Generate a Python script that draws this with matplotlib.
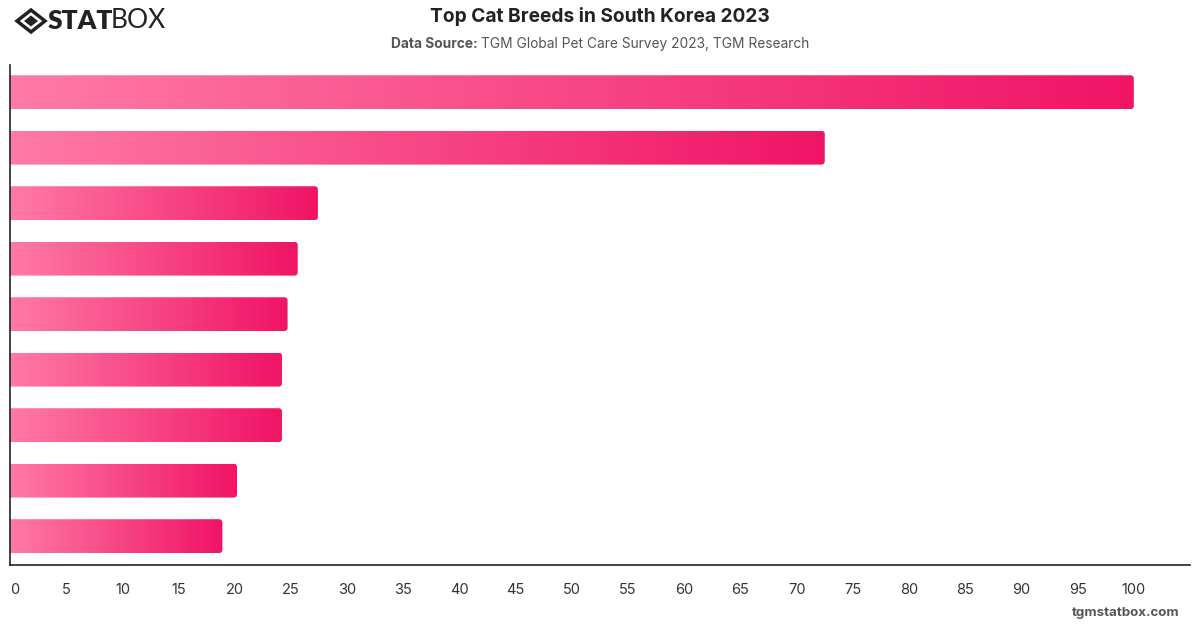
import matplotlib.pyplot as plt
import numpy as np
from matplotlib.patches import FancyBboxPatch, Polygon
from matplotlib.colors import LinearSegmentedColormap

plt.rcParams['font.family'] = ['Inter', 'DejaVu Sans']

# data (category names are not shown on the chart)
breeds = ['Korean Shorthair', 'Russian Blue', 'Persian', 'Scottish Fold', 'Siamese',
          'British Shorthair', 'Bengal', 'Ragdoll', 'Maine Coon']
scores = [100, 72.5, 27.4, 25.6, 24.7, 24.2, 24.2, 20.2, 18.9]
ticks = list(range(0, 101, 5))

XMAX = 105.0

fig = plt.figure(figsize=(12, 6.28), dpi=100)
ax = fig.add_axes([10 / 1200, 1 - 565 / 628, 1180 / 1200, 500 / 628])

y = np.arange(len(breeds))
bars = ax.barh(y, scores, height=0.61, color='none')
ax.set_xlim(0, XMAX)
ax.set_ylim(len(breeds) - 0.48, -0.49)

cmap = LinearSegmentedColormap.from_list('pink', ['#ff7aa6', '#f01465'])
grad = np.linspace(0, 1, 256).reshape(1, -1)

# pixel scale to keep rounded corners round
px_x = 1180 / XMAX
px_y = 500 / (len(breeds) + 0.49 - 0.52)
r = 3.5 / px_x
for b in bars:
    x0, y0, w, h = b.get_x(), b.get_y(), b.get_width(), b.get_height()
    patch = FancyBboxPatch((x0 - 1, y0), w + 1, h,
                           boxstyle='round,pad=0,rounding_size=%f' % r,
                           mutation_aspect=px_x / px_y,
                           facecolor='none', edgecolor='none')
    ax.add_patch(patch)
    im = ax.imshow(grad, cmap=cmap, aspect='auto', extent=(x0, x0 + w, y0 + h, y0),
                   interpolation='bicubic', zorder=2)
    im.set_clip_path(patch)

ax.set_xlim(0, XMAX)
ax.set_ylim(len(breeds) - 0.48, -0.49)
ax.set_xticks(ticks)
ax.set_yticks([])
ax.tick_params(axis='x', length=0, pad=13, labelsize=10.5, labelcolor='#333333')
ax.get_xticklabels()[0].set_ha('left')
for s in ['top', 'right']:
    ax.spines[s].set_visible(False)
for s in ['left', 'bottom']:
    ax.spines[s].set_color('#222222')
    ax.spines[s].set_linewidth(1.2)
    ax.spines[s].set_zorder(5)

fig.text(0.5, 1 - 17 / 628, 'Top Cat Breeds in South Korea 2023', ha='center', va='center',
         fontsize=13.8, fontweight='bold', color='#222222')
# subtitle as two runs, centred as a whole
sub1 = 'Data Source: '
sub2 = 'TGM Global Pet Care Survey 2023, TGM Research'
t1 = fig.text(0.5, 1 - 44 / 628, sub1, ha='right', va='center',
              fontsize=9.9, fontweight='bold', color='#555555')
t2 = fig.text(0.5, 1 - 44 / 628, sub2, ha='left', va='center', fontsize=9.9, color='#555555')
fig.canvas.draw()
rend = fig.canvas.get_renderer()
w1 = t1.get_window_extent(rend).width
w2 = t2.get_window_extent(rend).width
start = 600 - (w1 + w2) / 2
t1.set_x((start + w1) / 1200)
t2.set_x((start + w1) / 1200)

# logo
lx, ly = 31, 21
outer = Polygon([(lx - 14, ly), (lx, ly - 11), (lx + 14, ly), (lx, ly + 11)], closed=True,
                transform=None, facecolor='none', edgecolor='#222222', linewidth=2.5)
inner = Polygon([(lx - 7, ly), (lx, ly - 5.5), (lx + 7, ly), (lx, ly + 5.5)], closed=True,
                transform=None, facecolor='#222222', edgecolor='none')
for p in (outer, inner):
    xy = p.get_xy()
    xy[:, 1] = 628 - xy[:, 1]
    p.set_xy(xy)
    fig.patches.append(p)
fig.text(48 / 1200, 1 - 21 / 628, 'STAT', ha='left', va='center', fontsize=19,
         fontweight='heavy', color='#222222', family=['Lato', 'DejaVu Sans'])
fig.text(111 / 1200, 1 - 21 / 628, 'BOX', ha='left', va='center', fontsize=19,
         fontweight='normal', color='#222222', family=['Lato', 'DejaVu Sans'])

fig.text(1180 / 1200, 1 - 613 / 628, 'tgmstatbox.com', ha='right', va='center',
         fontsize=9.6, fontweight='bold', color='#555555')

fig.savefig('out.png', dpi=100, facecolor='white')
